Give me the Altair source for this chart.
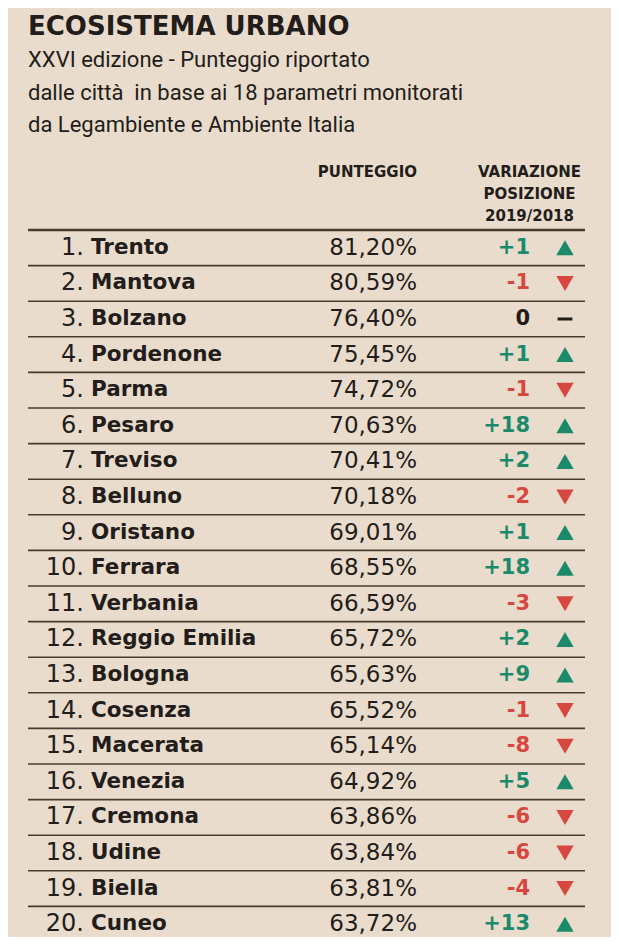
import altair as alt
import pandas as pd

# ---- data ----
ranks = list(range(1, 21))
cities = ["Trento", "Mantova", "Bolzano", "Pordenone", "Parma", "Pesaro", "Treviso",
          "Belluno", "Oristano", "Ferrara", "Verbania", "Reggio Emilia", "Bologna",
          "Cosenza", "Macerata", "Venezia", "Cremona", "Udine", "Biella", "Cuneo"]
scores = [81.20, 80.59, 76.40, 75.45, 74.72, 70.63, 70.41, 70.18, 69.01, 68.55,
          66.59, 65.72, 65.63, 65.52, 65.14, 64.92, 63.86, 63.84, 63.81, 63.72]
changes = [1, -1, 0, 1, -1, 18, 2, -2, 1, 18, -3, 2, 9, -1, -8, 5, -6, -6, -4, 13]

title_text = "ECOSISTEMA URBANO"
subtitle_lines = ["XXVI edizione - Punteggio riportato",
                  "dalle città\u00a0 in base ai 18 parametri monitorati",
                  "da Legambiente e Ambiente Italia"]
score_header = "PUNTEGGIO"
change_header = ["VARIAZIONE", "POSIZIONE", "2019/2018"]

# ---- styles ----
FONT = "DejaVu Sans"
SUB_FONT = "Roboto"
BG = "#eadccc"
INK = "#221d1a"
LINE = "#4a3b32"
GREEN = "#1b8a6a"
RED = "#d8473f"

df = pd.DataFrame({
    "rank": ranks,
    "city": cities,
    "score": scores,
    "change": changes,
})
df["rank_label"] = [f"{r}." for r in ranks]
df["score_label"] = [f"{s:.2f}".replace(".", ",") + "%" for s in scores]
df["change_label"] = [f"+{c}" if c > 0 else f"{c}" for c in changes]
df["trend"] = ["up" if c > 0 else ("down" if c < 0 else "flat") for c in changes]

seps = pd.DataFrame({"pos": [r + 0.5 for r in range(0, 21)]})

yscale = alt.Scale(domain=[0.5, 20.5], range=[222, 934])
Y = alt.Y("rank:Q", scale=yscale, axis=None)
trend_color = alt.Color("trend:N", scale=alt.Scale(domain=["up", "down", "flat"],
                                                    range=[GREEN, RED, INK]), legend=None)

base = alt.Chart(df)

rank_txt = base.mark_text(align="right", baseline="middle", font=FONT, fontSize=24,
                          color=INK).encode(x=alt.value(76), y=Y, text="rank_label:N")
city_txt = base.mark_text(align="left", baseline="middle", font=FONT, fontSize=21.5,
                          fontWeight="bold", color=INK).encode(x=alt.value(83), y=Y, text="city:N")
score_txt = base.mark_text(align="right", baseline="middle", font=FONT, fontSize=23,
                           color=INK).encode(x=alt.value(409), y=Y, text="score_label:N")
change_txt = base.mark_text(align="right", baseline="middle", font=FONT, fontSize=21,
                            fontWeight="bold").encode(x=alt.value(522), y=Y,
                                                      text="change_label:N", color=trend_color)
tri = base.transform_filter("datum.trend != 'flat'").mark_point(
    filled=True, size=300, opacity=1).encode(
    x=alt.value(557), y=Y,
    shape=alt.Shape("trend:N", scale=alt.Scale(domain=["up", "down"],
                                               range=["triangle-up", "triangle-down"]), legend=None),
    color=trend_color)
flat = base.transform_filter("datum.trend == 'flat'").mark_point(
    shape="stroke", filled=False, size=220, strokeWidth=3, color=INK, opacity=1).encode(
    x=alt.value(557), y=Y)

sep_y = alt.Y("pos:Q", scale=yscale, axis=None)
sep_rules = alt.Chart(seps).transform_filter("datum.pos > 1").mark_rule(
    color=LINE, strokeWidth=1.6).encode(x=alt.value(20), x2=alt.value(577), y=sep_y)
top_rule = alt.Chart(seps).transform_filter("datum.pos < 1").mark_rule(
    color=LINE, strokeWidth=2.6).encode(x=alt.value(20), x2=alt.value(577), y=sep_y)


def label(text, x, y, size, weight="normal", align="left", font=FONT):
    return alt.Chart(alt.Data(values=[{"t": text}])).mark_text(
        align=align, baseline="middle", font=font, fontSize=size, fontWeight=weight,
        color=INK).encode(x=alt.value(x), y=alt.value(y), text="t:N")


texts = [label(title_text, 20, 19, 26, "bold")]
for i, line in enumerate(subtitle_lines):
    texts.append(label(line, 20, 52 + 32.5 * i, 22, font=SUB_FONT))
texts.append(label(score_header, 409, 164, 15, "bold", "right"))
for i, line in enumerate(change_header):
    texts.append(label(line, 521.5, 164 + 22 * i, 15, "bold", "center"))

chart = alt.layer(
    top_rule, sep_rules, rank_txt, city_txt, score_txt, change_txt, tri, flat, *texts
).properties(
    width=603, height=929, padding=0, background=BG,
    autosize=alt.AutoSizeParams(type="none")
).configure_view(stroke=None)

chart.save("out.html", embed_options={"renderer": "svg", "actions": False})
